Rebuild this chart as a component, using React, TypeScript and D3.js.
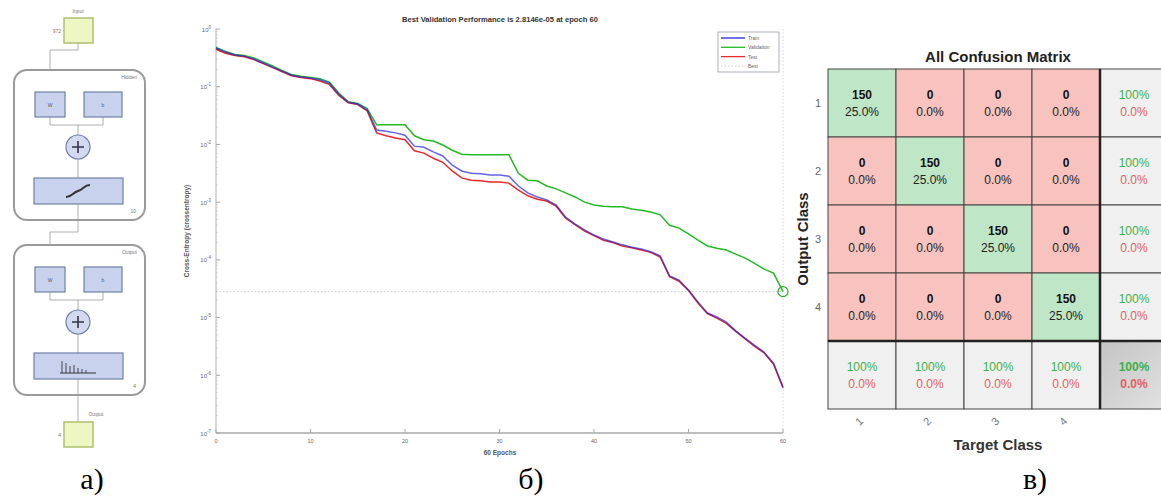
import React from "react";
import * as d3 from "d3";

// ---------- Performance plot data (log10 of cross-entropy per epoch) ----------
const epochCount = 60;
const trainLog10 = [
  -0.33, -0.40, -0.45, -0.47, -0.52, -0.59, -0.66, -0.73, -0.80, -0.83, -0.85, -0.88, -0.94, -1.13, -1.27, -1.30, -1.40,
  -1.75, -1.77, -1.80, -1.84, -2.03, -2.05, -2.13, -2.20, -2.36, -2.46, -2.50, -2.51, -2.53, -2.53, -2.55,
  -2.72, -2.84, -2.91, -2.96, -3.05, -3.26, -3.38, -3.48, -3.57, -3.64, -3.69, -3.74, -3.78, -3.81, -3.86, -3.93,
  -4.28, -4.35, -4.52, -4.73, -4.92, -4.99, -5.08, -5.23, -5.36, -5.48, -5.60, -5.79, -6.20,
];
const validationLog10 = [
  -0.32, -0.39, -0.44, -0.46, -0.50, -0.57, -0.64, -0.72, -0.79, -0.82, -0.84, -0.86, -0.92, -1.11, -1.26, -1.29, -1.38,
  -1.66, -1.66, -1.66, -1.66, -1.85, -1.92, -1.94, -2.01, -2.10, -2.17, -2.18, -2.18, -2.18, -2.18, -2.18,
  -2.50, -2.62, -2.63, -2.72, -2.77, -2.84, -2.91, -3.00, -3.05, -3.07, -3.08, -3.08, -3.12, -3.14, -3.17, -3.22,
  -3.40, -3.45, -3.55, -3.66, -3.76, -3.80, -3.83, -3.90, -3.97, -4.06, -4.16, -4.23, -4.5506,
];
const testLog10 = [
  -0.35, -0.42, -0.46, -0.48, -0.53, -0.60, -0.67, -0.74, -0.81, -0.84, -0.86, -0.90, -0.96, -1.15, -1.28, -1.31, -1.42,
  -1.80, -1.85, -1.89, -1.92, -2.11, -2.15, -2.24, -2.31, -2.46, -2.58, -2.62, -2.63, -2.65, -2.65, -2.67,
  -2.79, -2.89, -2.95, -2.98, -3.07, -3.28, -3.39, -3.50, -3.58, -3.66, -3.70, -3.76, -3.79, -3.83, -3.87, -3.95,
  -4.29, -4.37, -4.53, -4.75, -4.93, -5.01, -5.10, -5.24, -5.37, -5.50, -5.61, -5.81, -6.22,
];
const bestEpoch = 60;
const bestValue = 2.8146e-5;
const xTicks = [0, 10, 20, 30, 40, 50, 60];
const yDecades = [0, -1, -2, -3, -4, -5, -6, -7];
const legendItems = ["Train", "Validation", "Test", "Best"];
const perfTitle = "Best Validation Performance is 2.8146e-05 at epoch 60";

// ---------- Confusion matrix data ----------
const classLabels = ["1", "2", "3", "4"];
const confusionCounts = [
  [150, 0, 0, 0],
  [0, 150, 0, 0],
  [0, 0, 150, 0],
  [0, 0, 0, 150],
];

// ---------- Network diagram labels ----------
const inputSize = "972";
const hiddenSize = "10";
const outputSize = "4";

const SANS = "Arial, 'Liberation Sans', Helvetica, sans-serif";
const SERIF = "'Liberation Serif', 'Times New Roman', serif";

function NetworkDiagram() {
  const boxFill = "#c8d2ec";
  const boxStroke = "#6f7fa8";
  const ioFill = "#eef6c4";
  const ioStroke = "#aabd66";
  const wire = "#9a9a9a";
  const tiny = { fontFamily: SANS, fontSize: 5, fill: "#777" } as const;
  const block = (top: number, bottom: number, name: string, size: string, isOutput: boolean) => {
    const wY = top + 22;
    const sumY = top + 77;
    const tfY = top + 108;
    return (
      <g>
        <rect x={14} y={top} width={131} height={bottom - top} rx={13} fill="#fff" stroke="#9a9a9a" strokeWidth={2} />
        <text x={137} y={top + 9} textAnchor="end" {...tiny}>{name}</text>
        <text x={136} y={bottom - 7} textAnchor="end" {...tiny}>{size}</text>
        <path d={`M50,${wY + 25} V${wY + 33} H103 V${wY + 25}`} fill="none" stroke={wire} strokeWidth={0.8} />
        <path d={`M78,${wY + 33} V${sumY - 12}`} fill="none" stroke={wire} strokeWidth={0.8} />
        <path d={`M78,${sumY + 12} V${tfY}`} fill="none" stroke={wire} strokeWidth={0.8} />
        <path d={`M78,${tfY + 26} V${bottom}`} fill="none" stroke={wire} strokeWidth={0.8} />
        <rect x={35} y={wY} width={30} height={25} fill={boxFill} stroke={boxStroke} strokeWidth={1.2} />
        <text x={50} y={wY + 15} textAnchor="middle" {...tiny} fill="#556">W</text>
        <rect x={84} y={wY} width={38} height={25} fill={boxFill} stroke={boxStroke} strokeWidth={1.2} />
        <text x={103} y={wY + 15} textAnchor="middle" {...tiny} fill="#556">b</text>
        <circle cx={78} cy={sumY} r={12} fill="#d3daf0" stroke={boxStroke} strokeWidth={1.2} />
        <path d={`M72,${sumY} H84 M78,${sumY - 6} V${sumY + 6}`} stroke="#334" strokeWidth={1.6} />
        <rect x={34} y={tfY} width={89} height={26} fill={boxFill} stroke={boxStroke} strokeWidth={1.2} />
        {isOutput ? (
          <g stroke="#333" strokeWidth={1}>
            <path d={`M60,${tfY + 20} H96`} />
            <path d={`M62,${tfY + 20} V${tfY + 8} M66,${tfY + 20} V${tfY + 10} M70,${tfY + 20} V${tfY + 13} M74,${tfY + 20} V${tfY + 12} M78,${tfY + 20} V${tfY + 15} M82,${tfY + 20} V${tfY + 16} M86,${tfY + 20} V${tfY + 17}`} stroke="#445" />
          </g>
        ) : (
          <path d={`M66,${tfY + 19} C72,${tfY + 19} 72,${tfY + 15} 78,${tfY + 13} C84,${tfY + 11} 84,${tfY + 7} 90,${tfY + 7}`} fill="none" stroke="#333" strokeWidth={2} />
        )}
      </g>
    );
  };
  return (
    <g>
      <text x={78} y={13} textAnchor="middle" {...tiny}>Input</text>
      <rect x={64} y={18} width={29} height={25} fill={ioFill} stroke={ioStroke} strokeWidth={1.4} />
      <text x={61} y={33} textAnchor="end" {...tiny}>{inputSize}</text>
      <path d="M78,43 V50 H50 V92" fill="none" stroke={wire} strokeWidth={0.8} />
      {block(70, 220, "Hidden", hiddenSize, false)}
      <path d="M78,220 V232 H50 V267" fill="none" stroke={wire} strokeWidth={0.8} />
      {block(245, 395, "Output", outputSize, true)}
      <path d="M78,395 V422" fill="none" stroke={wire} strokeWidth={0.8} />
      <text x={96} y={416} textAnchor="middle" {...tiny}>Output</text>
      <rect x={64} y={422} width={29} height={25} fill={ioFill} stroke={ioStroke} strokeWidth={1.4} />
      <text x={61} y={437} textAnchor="end" {...tiny}>{outputSize}</text>
    </g>
  );
}

function PerformancePlot() {
  const x = d3.scaleLinear().domain([0, epochCount]).range([216, 783]);
  const y = d3.scaleLog().domain([1e-7, 1]).range([433, 29]);
  const epochs = d3.range(0, epochCount + 1);
  const line = (logs: number[]) =>
    d3
      .line<number>()
      .x((i) => x(i))
      .y((i) => y(Math.pow(10, logs[i])))(epochs) as string;

  const axisColor = "#a8a8a8";
  const labelColor = "#666";
  const minorTicks: number[] = [];
  for (let dec = -7; dec < 0; dec++) {
    for (let m = 2; m <= 9; m++) minorTicks.push(m * Math.pow(10, dec));
  }
  const x0 = x(0);
  const yB = y(1e-7);
  return (
    <g>
      <text x={500} y={22} textAnchor="middle" fontFamily={SANS} fontSize={7.6} fontWeight="bold" fill="#333">
        {perfTitle}
      </text>
      <line x1={x0} x2={x(epochCount)} y1={y(bestValue)} y2={y(bestValue)} stroke="#bbb" strokeWidth={0.8} strokeDasharray="1.5,2" />
      <line x1={x(bestEpoch)} x2={x(bestEpoch)} y1={y(1)} y2={yB} stroke="#ccc" strokeWidth={0.8} strokeDasharray="1.5,2" />
      <line x1={x0} x2={x0} y1={y(1)} y2={yB} stroke={axisColor} strokeWidth={0.9} />
      <line x1={x0} x2={x(epochCount)} y1={yB} y2={yB} stroke={axisColor} strokeWidth={1.4} />
      {yDecades.map((d) => (
        <g key={d}>
          <line x1={x0} x2={x0 + 4} y1={y(Math.pow(10, d))} y2={y(Math.pow(10, d))} stroke={axisColor} />
          <text x={x0 - 5} y={y(Math.pow(10, d)) + 2.5} textAnchor="end" fontFamily={SANS} fontSize={6} fill={labelColor}>
            10<tspan dy={-3} fontSize={4.5}>{d}</tspan>
          </text>
        </g>
      ))}
      {minorTicks.map((v, i) => (
        <line key={i} x1={x0} x2={x0 + 2} y1={y(v)} y2={y(v)} stroke="#c4c4c4" strokeWidth={0.6} />
      ))}
      {xTicks.map((t) => (
        <g key={t}>
          <line x1={x(t)} x2={x(t)} y1={yB} y2={yB - 4} stroke={axisColor} />
          <text x={x(t)} y={yB + 10} textAnchor="middle" fontFamily={SANS} fontSize={5.5} fill={labelColor}>
            {t}
          </text>
        </g>
      ))}
      <text x={500} y={455} textAnchor="middle" fontFamily={SANS} fontSize={6.5} fontWeight="bold" fill="#555">
        {epochCount} Epochs
      </text>
      <text transform={`translate(189,231) rotate(-90)`} textAnchor="middle" fontFamily={SANS} fontSize={6.5} fontWeight="bold" fill="#555">
        Cross-Entropy  (crossentropy)
      </text>
      <path d={line(validationLog10)} fill="none" stroke="#22bb22" strokeWidth={1.5} />
      <path d={line(testLog10)} fill="none" stroke="#e8282a" strokeWidth={1.5} />
      <path d={line(trainLog10)} fill="none" stroke="#2222dd" strokeWidth={1.5} strokeOpacity={0.7} />
      <circle cx={x(bestEpoch)} cy={y(bestValue)} r={5} fill="none" stroke="#22aa22" strokeWidth={1.2} />
      <rect x={718} y={32} width={61} height={40} fill="#fff" stroke="#9a9aaa" strokeWidth={0.8} />
      {legendItems.map((name, i) => {
        const ly = 38 + i * 9.3;
        const col = ["#2222dd", "#22bb22", "#e8282a", "#bbb"][i];
        return (
          <g key={name}>
            <line x1={721} x2={745} y1={ly} y2={ly} stroke={col} strokeWidth={i === 3 ? 0.8 : 1.3} strokeDasharray={i === 3 ? "1.5,2" : undefined} />
            <text x={748} y={ly + 2} fontFamily={SANS} fontSize={5} fill="#666">{name}</text>
          </g>
        );
      })}
    </g>
  );
}

function ConfusionMatrix() {
  const n = classLabels.length;
  const cols = d3.range(n + 1);
  const xs = d3.scaleBand<number>().domain(cols).range([828, 1168]);
  const ys = d3.scaleBand<number>().domain(cols).range([69, 409]);
  const total = d3.sum(confusionCounts.flat());
  const cw = xs.bandwidth();
  const ch = ys.bandwidth();
  const green = "#bfe6c7";
  const red = "#f8c3bf";
  const gray = "#f0f0f0";
  const pctGreen = "#3cb04a";
  const pctRed = "#e4605a";
  const cells: React.ReactNode[] = [];
  const fmt = (v: number) => `${(v * 100).toFixed(1)}%`;
  const fmtWhole = (v: number) => (v === 1 ? "100%" : `${(v * 100).toFixed(1)}%`);
  for (let r = 0; r <= n; r++) {
    for (let c = 0; c <= n; c++) {
      const cx = xs(c)! + cw / 2;
      const cy = ys(r)! + ch / 2;
      let fill = gray;
      let content: React.ReactNode;
      if (r < n && c < n) {
        const v = confusionCounts[r][c];
        fill = r === c ? green : red;
        content = (
          <>
            <text x={cx} y={cy - 4} textAnchor="middle" fontFamily={SANS} fontSize={12} fontWeight="bold" fill="#111">{v}</text>
            <text x={cx} y={cy + 13} textAnchor="middle" fontFamily={SANS} fontSize={12} fill="#222">{fmt(v / total)}</text>
          </>
        );
      } else {
        let correct: number;
        let all: number;
        if (r < n) {
          all = d3.sum(confusionCounts[r]);
          correct = confusionCounts[r][r];
        } else if (c < n) {
          all = d3.sum(confusionCounts, (row) => row[c]);
          correct = confusionCounts[c][c];
        } else {
          all = total;
          correct = d3.sum(confusionCounts, (row, i) => row[i]);
        }
        const acc = correct / all;
        const bold = r === n && c === n;
        if (bold) fill = "url(#cornerGrad)";
        content = (
          <>
            <text x={cx} y={cy - 4} textAnchor="middle" fontFamily={SANS} fontSize={12} fontWeight={bold ? "bold" : "normal"} fill={pctGreen}>{fmtWhole(acc)}</text>
            <text x={cx} y={cy + 13} textAnchor="middle" fontFamily={SANS} fontSize={12} fontWeight={bold ? "bold" : "normal"} fill={pctRed}>{fmt(1 - acc)}</text>
          </>
        );
      }
      cells.push(
        <g key={`${r}-${c}`}>
          <rect x={xs(c)!} y={ys(r)!} width={cw} height={ch} fill={fill} stroke="#444" strokeWidth={1} />
          {content}
        </g>
      );
    }
  }
  return (
    <g>
      <defs>
        <linearGradient id="cornerGrad" x1="0" y1="0" x2="1" y2="1">
          <stop offset="0" stopColor="#c4c4c4" />
          <stop offset="1" stopColor="#e2e2e2" />
        </linearGradient>
      </defs>
      {cells}
      <line x1={xs(n)!} x2={xs(n)!} y1={69} y2={409} stroke="#222" strokeWidth={2.5} />
      <line x1={828} x2={1168} y1={ys(n)!} y2={ys(n)!} stroke="#222" strokeWidth={2.5} />
      <text x={998} y={62} textAnchor="middle" fontFamily={SANS} fontSize={15} fontWeight="bold" fill="#222">All Confusion Matrix</text>
      {classLabels.map((lab, i) => (
        <g key={lab}>
          <text x={818} y={ys(i)! + ch / 2 + 4} textAnchor="middle" fontFamily={SANS} fontSize={11} fill="#666">{lab}</text>
          <text transform={`translate(${xs(i)! + cw / 2},${424}) rotate(-45)`} textAnchor="middle" fontFamily={SANS} fontSize={11} fill="#777">{lab}</text>
        </g>
      ))}
      <text transform={`translate(808,239) rotate(-90)`} textAnchor="middle" fontFamily={SANS} fontSize={15} fontWeight="bold" fill="#222">Output Class</text>
      <text x={998} y={450} textAnchor="middle" fontFamily={SANS} fontSize={15} fontWeight="bold" fill="#333">Target Class</text>
    </g>
  );
}

export default function App() {
  return (
    <svg width={1161} height={498} style={{ position: "absolute", left: 0, top: 0, background: "#fff" }}>
      <rect x={0} y={0} width={1161} height={498} fill="#fff" />
      <NetworkDiagram />
      <PerformancePlot />
      <ConfusionMatrix />
      <text x={92} y={489} textAnchor="middle" fontFamily={SERIF} fontSize={30} fill="#000">а)</text>
      <text x={531} y={489} textAnchor="middle" fontFamily={SERIF} fontSize={30} fill="#000">б)</text>
      <text x={1035} y={489} textAnchor="middle" fontFamily={SERIF} fontSize={30} fill="#000">в)</text>
    </svg>
  );
}
